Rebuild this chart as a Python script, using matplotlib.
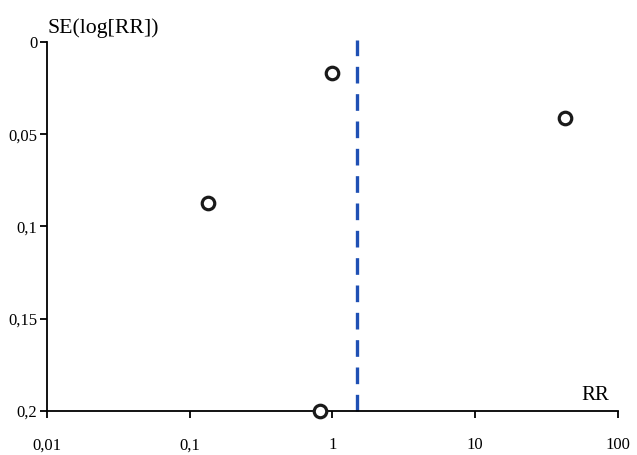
import matplotlib
matplotlib.use("Agg")
import matplotlib.pyplot as plt
from matplotlib.ticker import FixedLocator, FixedFormatter

plt.rcParams['font.family'] = ['Liberation Serif', 'DejaVu Serif']

# studies: relative risk and standard error of log(RR)
rr = [1.0, 43.0, 0.134, 0.82]
se = [0.017, 0.041, 0.087, 0.2]
# pooled estimate
pooled_rr = 1.49

x_ticks = [0.01, 0.1, 1, 10, 100]
x_labels = ["0,01", "0,1", "1", "10", "100"]
y_ticks = [0, 0.05, 0.1, 0.15, 0.2]
y_labels = ["0", "0,05", "0,1", "0,15", "0,2"]

fig = plt.figure(figsize=(6.37, 4.55), dpi=100)
ax = fig.add_axes([0.0738, 0.0967, 0.896, 0.811])

ax.set_xscale("log")
ax.set_xlim(0.01, 100)
ax.set_ylim(0.2, 0)

ax.axvline(pooled_rr, ymin=0, ymax=1.005, color="#1f50b4", lw=2.4,
           dashes=(5, 3.2), clip_on=False)
ax.plot(rr, se, "o", ms=9, mfc="white", mec="#1a1a1a", mew=2.3,
        clip_on=False, zorder=5)

ax.xaxis.set_major_locator(FixedLocator(x_ticks))
ax.xaxis.set_major_formatter(FixedFormatter(x_labels))
ax.xaxis.set_minor_locator(FixedLocator([]))
ax.set_yticks(y_ticks)
ax.set_yticklabels(y_labels)

for s in ["top", "right"]:
    ax.spines[s].set_visible(False)
for s in ["left", "bottom"]:
    ax.spines[s].set_linewidth(1.3)
ax.spines["left"].set_bounds(0, 0.2)
ax.tick_params(direction="out", length=5, width=1.3, labelsize=12, colors="black")
ax.tick_params(axis="x", pad=14)
ax.tick_params(axis="y", pad=2)

ax.text(0.0, 1.01, "SE(log[RR])", transform=ax.transAxes, fontsize=15.7,
        ha="left", va="bottom")
ax.text(0.985, 0.015, "RR", transform=ax.transAxes, fontsize=15,
        ha="right", va="bottom")

fig.savefig("out.png", dpi=100)
